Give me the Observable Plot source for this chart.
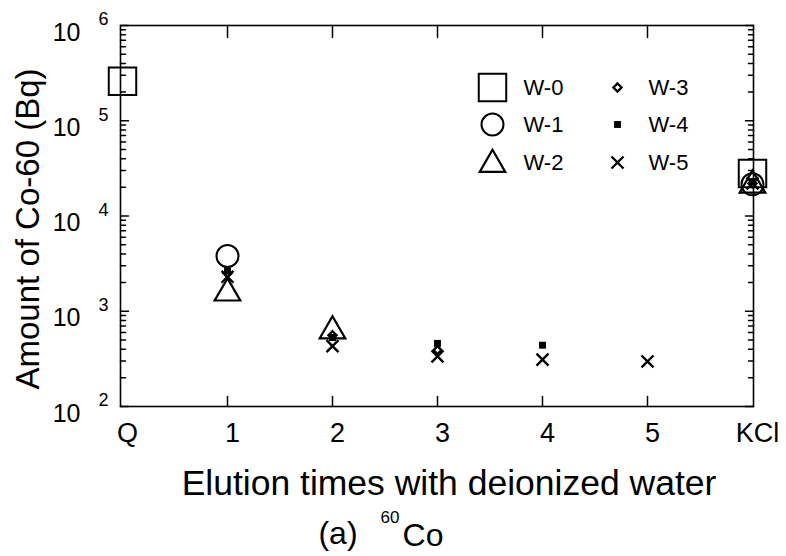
<!DOCTYPE html>
<html><head><meta charset="utf-8">
<script src="https://cdn.jsdelivr.net/npm/d3@7"></script>
<script src="https://cdn.jsdelivr.net/npm/@observablehq/plot@0.6"></script>
<style>body{margin:0;background:#fff}</style>
</head><body><div id="chart"></div>
<script>
// ---- data ----
const categories = ["Q", "1", "2", "3", "4", "5", "KCl"];
const seriesNames = ["W-0", "W-1", "W-2", "W-3", "W-4", "W-5"];
const w0Values = [260000, null, null, null, null, null, 28000];
const w1Values = [null, 3800, null, null, null, null, 21500];
const w2Values = [null, 1550, 620, null, null, null, 21000];
const w3Values = [null, 2500, 560, 390, null, null, 22000];
const w4Values = [null, 2650, 530, 460, 440, null, 23000];
const w5Values = [null, 2300, 430, 335, 310, 297, 22000];
const majorTicksY = [1e2, 1e3, 1e4, 1e5, 1e6];
const minorTicksY = [2,3,4,5,6,7,8,9].flatMap(m => [1e2,1e3,1e4,1e5].map(d => m*d));
const innerTickCats = ["1", "2", "3", "4", "5"];
const xTitle = "Elution times with deionized water";
const yTitle = "Amount of Co-60 (Bq)";

// ---- styles ----
const seriesValues = [w0Values, w1Values, w2Values, w3Values, w4Values, w5Values];
const styles = [
  {symbol: "square", r: 15.5, fill: "none", stroke: "black", strokeWidth: 2},
  {symbol: "circle", r: 11, fill: "none", stroke: "black", strokeWidth: 2},
  {symbol: "triangle", r: 9.5, fill: "none", stroke: "black", strokeWidth: 2.2},
  {symbol: "diamond2", r: 3.6, fill: "none", stroke: "black", strokeWidth: 2.4},
  {symbol: "square", r: 3.9, fill: "black", stroke: "none", strokeWidth: 0},
  {symbol: "times", r: 5.5, fill: "none", stroke: "black", strokeWidth: 2.4}
];
const legendCol = [372, 497];
const legendRow = [62, 99, 137];
const legendTextGap = 31;

const rows = [];
seriesNames.forEach((s, i) => seriesValues[i].forEach((v, j) => {
  if (v != null) rows.push({series: s, cat: categories[j], value: v});
}));

const tickShape = {draw(context, l) { context.moveTo(0, 0); context.lineTo(0, -l); }};
const font = "'Liberation Sans', Arial, Helvetica, sans-serif";
const txt = {fill: "black", lineAnchor: "middle"};

const marks = [];
// series dots
seriesNames.forEach((s, i) => {
  marks.push(Plot.dot(rows.filter(d => d.series === s), {x: "cat", y: "value", ...styles[i]}));
});
// frame + ticks
marks.push(Plot.frame({stroke: "black", strokeWidth: 1.6}));
const tk = {anchor: "start", shape: tickShape, stroke: "black", strokeWidth: 1.5};
marks.push(Plot.vector(majorTicksY, {y: d => d, frameAnchor: "left", rotate: 90, length: 8, ...tk}));
marks.push(Plot.vector(minorTicksY, {y: d => d, frameAnchor: "left", rotate: 90, length: 5, ...tk}));
marks.push(Plot.vector(majorTicksY, {y: d => d, frameAnchor: "right", rotate: -90, length: 8, ...tk}));
marks.push(Plot.vector(minorTicksY, {y: d => d, frameAnchor: "right", rotate: -90, length: 5, ...tk}));
marks.push(Plot.vector(innerTickCats, {x: d => d, frameAnchor: "bottom", rotate: 0, length: 10, ...tk}));
marks.push(Plot.vector(innerTickCats, {x: d => d, frameAnchor: "top", rotate: 180, length: 12, ...tk}));
// tick labels
marks.push(Plot.text(categories, {x: d => d, text: d => d, frameAnchor: "bottom", dx: 5, dy: 27, textAnchor: "middle", fontSize: 27, ...txt}));
marks.push(Plot.text(majorTicksY, {y: d => d, text: () => "10", frameAnchor: "left", dx: -40, dy: 7, textAnchor: "end", fontSize: 25, ...txt}));
marks.push(Plot.text(majorTicksY, {y: d => d, text: d => String(Math.round(Math.log10(d))), frameAnchor: "left", dx: -12, dy: -6, textAnchor: "end", fontSize: 18, ...txt}));
// titles
marks.push(Plot.text([yTitle], {text: d => d, frameAnchor: "left", dx: -92, dy: 13, rotate: -90, textAnchor: "middle", fontSize: 33, ...txt}));
marks.push(Plot.text([xTitle], {text: d => d, frameAnchor: "bottom", dx: 12, dy: 77, textAnchor: "middle", fontSize: 35.5, ...txt}));
marks.push(Plot.text(["(a)"], {text: d => d, frameAnchor: "bottom", dx: -99, dy: 127, textAnchor: "middle", fontSize: 32, ...txt}));
marks.push(Plot.text(["60"], {text: d => d, frameAnchor: "bottom", dx: -47, dy: 111, textAnchor: "middle", fontSize: 17, ...txt}));
marks.push(Plot.text(["Co"], {text: d => d, frameAnchor: "bottom", dx: -14, dy: 129, textAnchor: "middle", fontSize: 32, ...txt}));
// legend
seriesNames.forEach((s, i) => {
  const cx = legendCol[Math.floor(i / 3)];
  const cy = legendRow[i % 3] + (styles[i].symbol === "triangle" ? 2 : 0);
  marks.push(Plot.dot([s], {frameAnchor: "top-left", dx: cx, dy: cy, ...styles[i]}));
  marks.push(Plot.text([s], {text: d => d, frameAnchor: "top-left", dx: cx + legendTextGap, dy: legendRow[i % 3], textAnchor: "start", fontSize: 22, ...txt}));
});

const chart = Plot.plot({
  width: 786,
  height: 556,
  marginLeft: 120,
  marginRight: 33,
  marginTop: 25,
  marginBottom: 150,
  style: {fontFamily: font, background: "white", color: "black"},
  x: {type: "point", domain: categories, padding: 0, axis: null},
  y: {type: "log", domain: [1e2, 1e6], axis: null},
  marks
});
document.getElementById("chart").appendChild(chart);
</script>
</body></html>
